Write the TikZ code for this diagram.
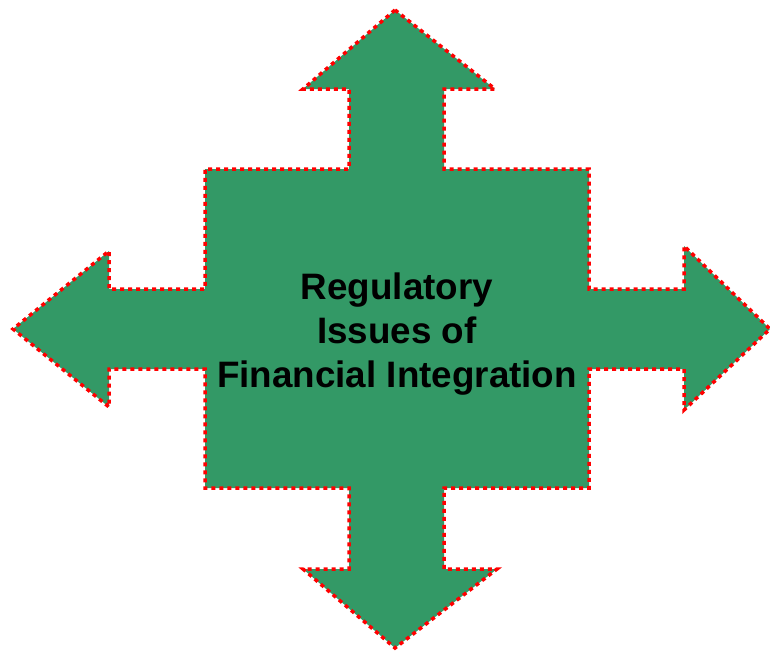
\documentclass[tikz,border=0pt]{standalone}
\usepackage{fontspec}
\setmainfont{Liberation Sans}
\definecolor{crossgreen}{RGB}{51,153,102}
\definecolor{dotred}{RGB}{255,0,0}
\tikzset{
  crossshape/.style={fill=crossgreen, draw=dotred, line width=3.5pt,
    dash pattern=on 4pt off 4pt, line join=miter},
  crosslabel/.style={align=center, font=\bfseries\fontsize{36.8}{44}\selectfont, text=black}
}
\begin{document}
\begin{tikzpicture}[x=1pt,y=-1pt]
\useasboundingbox (0,0) rectangle (770,651);
% four-way arrow around a central square
\draw[crossshape]
  (395,10) -- (495,89) -- (444,89) -- (444,169) -- (589,169) -- (589,289)
  -- (684,289) -- (684,246) -- (770,329) -- (684,410) -- (684,369)
  -- (589,369) -- (589,488) -- (444,488) -- (444,569) -- (497,569)
  -- (395,648) -- (303,569) -- (349,569) -- (349,488) -- (205,488)
  -- (205,369) -- (109,369) -- (109,407) -- (13,329) -- (109,251)
  -- (109,289) -- (205,289) -- (205,169) -- (349,169) -- (349,89)
  -- (303,89) -- cycle;
\node[crosslabel] (title) at (397,334) {Regulatory\\Issues of\\Financial Integration};
\end{tikzpicture}
\end{document}
